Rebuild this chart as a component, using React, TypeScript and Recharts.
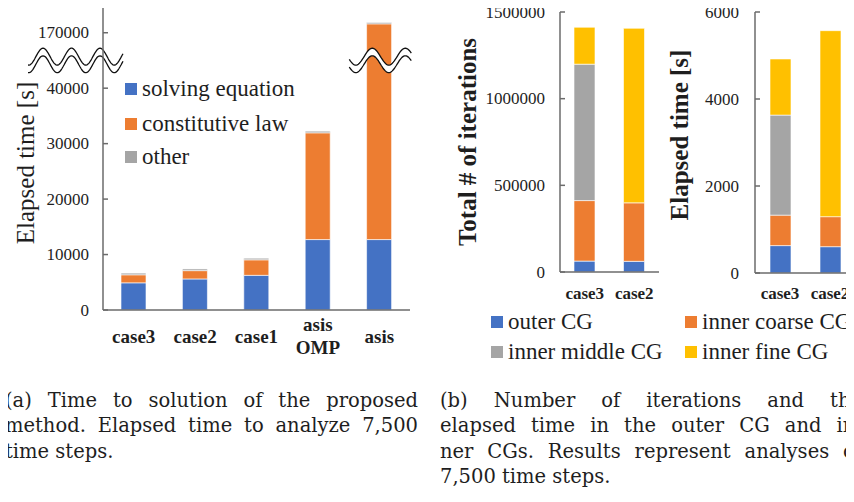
import React from 'react';
import { BarChart, Bar, XAxis, YAxis, ReferenceLine } from 'recharts';

// (a) time to solution, values in seconds
const timeCases = ['case3', 'case2', 'case1', 'asis\nOMP', 'asis'];
const solvingEquation = [4900, 5600, 6250, 12700, 12700];
const constitutiveLaw = [1450, 1500, 2800, 19250, 158900];
const otherTime = [300, 300, 300, 300, 250];
const timeTicks = [0, 10000, 20000, 30000, 40000, 170000];
const timeSeries = ['solving equation', 'constitutive law', 'other'];

// (b) iterations and elapsed time of the CG solvers
const cgCases = ['case3', 'case2'];
const cgSeries = ['outer CG', 'inner coarse CG', 'inner middle CG', 'inner fine CG'];
const iterOuter = [63000, 61500];
const iterCoarse = [349000, 337500];
const iterMiddle = [787000, 0];
const iterFine = [213000, 1007000];
const iterTicks = [0, 500000, 1000000, 1500000];
const cgTimeOuter = [630, 605];
const cgTimeCoarse = [700, 690];
const cgTimeMiddle = [2300, 0];
const cgTimeFine = [1290, 4276];
const cgTimeTicks = [0, 2000, 4000, 6000];

const BLUE = '#4472C4';
const ORANGE = '#ED7D31';
const GRAY = '#A5A5A5';
const YELLOW = '#FFC000';
const AXIS = '#6b6b6b';
const TEXT = '#1e1e1e';
const SERIF = '"Liberation Serif", "Times New Roman", serif';

// broken axis: everything above BREAK_AT is shifted down by GAP
const BREAK_AT = 40000;
const GAP = 120000;
const toShown = (v: number) => (v > BREAK_AT ? v - GAP : v);
const toReal = (v: number) => (v > BREAK_AT ? v + GAP : v);

const timeRows = timeCases.map((name, i) => {
  const total = solvingEquation[i] + constitutiveLaw[i] + otherTime[i];
  return {
    name,
    solving: solvingEquation[i],
    constitutive: total > BREAK_AT + GAP ? constitutiveLaw[i] - GAP : constitutiveLaw[i],
    other: otherTime[i],
  };
});

const iterRows = cgCases.map((name, i) => ({
  name,
  outer: iterOuter[i],
  coarse: iterCoarse[i],
  middle: iterMiddle[i],
  fine: iterFine[i],
}));

const cgTimeRows = cgCases.map((name, i) => ({
  name,
  outer: cgTimeOuter[i],
  coarse: cgTimeCoarse[i],
  middle: cgTimeMiddle[i],
  fine: cgTimeFine[i],
}));

const makeYTick = (gap: number, fmt: (v: number) => string = String) => (props: any) => {
  const { x, y, payload } = props;
  return (
    <g>
      <line x1={x + gap} x2={x + gap + 5} y1={y} y2={y} stroke={AXIS} strokeWidth={1.5} />
      <text
        x={x}
        y={y}
        textAnchor="end"
        dominantBaseline="central"
        fontSize={17}
        fontFamily={SERIF}
        fill={TEXT}
      >
        {fmt(payload.value)}
      </text>
    </g>
  );
};

const makeXTick = (dy: number, size: number, lh: number) => (props: any) => {
  const { x, y, payload } = props;
  const lines = String(payload.value).split('\n');
  const start = y + dy - ((lines.length - 1) * lh) / 2;
  return (
    <text
      x={x}
      textAnchor="middle"
      fontSize={size}
      fontWeight="bold"
      fontFamily={SERIF}
      fill={TEXT}
    >
      {lines.map((l, i) => (
        <tspan key={i} x={x} y={start + i * lh} dominantBaseline="central">
          {l}
        </tspan>
      ))}
    </text>
  );
};

const wavePath = (x0: number, x1: number, cy: number, peak: number, period: number) => {
  const pts: string[] = [];
  for (let x = x0; x <= x1; x += 1) {
    const y = cy - 8.5 * Math.cos((2 * Math.PI * (x - peak)) / period);
    pts.push(`${x.toFixed(1)},${y.toFixed(1)}`);
  }
  return pts;
};

const Wave = (p: { from: number; to: number; cy: number; peak: number; period: number }) => {
  const upper = wavePath(p.from, p.to, p.cy - 3.8, p.peak, p.period);
  const lower = wavePath(p.from, p.to, p.cy + 3.8, p.peak, p.period);
  return (
    <g>
      <polygon points={[...upper, ...lower.slice().reverse()].join(' ')} fill="#fff" />
      <polyline points={upper.join(' ')} fill="none" stroke="#111" strokeWidth={1.3} />
      <polyline points={lower.join(' ')} fill="none" stroke="#111" strokeWidth={1.3} />
    </g>
  );
};

// break marks drawn from the reference line's coordinates
const BreakMarks = (props: any) => {
  const { x1, x2, y1 } = props;
  const band = (x2 - x1) / timeCases.length;
  const lastCenter = x1 + band * (timeCases.length - 0.5);
  return (
    <g>
      <Wave from={x1 - 75} to={x1 + 20} cy={y1} peak={x1 - 3} period={28.5} />
      <Wave from={lastCenter - 30} to={lastCenter + 32} cy={y1} peak={lastCenter - 7} period={33} />
    </g>
  );
};

const YLabel = ({ x, y, text, bold }: { x: number; y: number; text: string; bold?: boolean }) => (
  <text
    x={x}
    y={y}
    transform={`rotate(-90, ${x}, ${y})`}
    textAnchor="middle"
    dominantBaseline="central"
    fontSize={25}
    fontWeight={bold ? 'bold' : 'normal'}
    fontFamily={SERIF}
    fill={TEXT}
  >
    {text}
  </text>
);

const Swatch = ({ color, label, left, top }: { color: string; label: string; left: number; top: number }) => (
  <div style={{ position: 'absolute', left, top: top - 15, height: 30, display: 'flex', alignItems: 'center' }}>
    <div style={{ width: 12, height: 12, background: color, marginRight: 5 }} />
    <span style={{ fontSize: 23, color: TEXT, whiteSpace: 'nowrap' }}>{label}</span>
  </div>
);

const captionLine = (text: string, last: boolean, width: number) => (
  <div
    key={text}
    style={{
      width,
      whiteSpace: 'nowrap',
      textAlign: last ? 'left' : 'justify',
      textAlignLast: last ? 'left' : 'justify',
    }}
  >
    {text}
  </div>
);

const captionA = [
  '(a) Time to solution of the proposed',
  'method. Elapsed time to analyze 7,500',
  'time steps.',
];
const captionB = [
  '(b) Number of iterations and the',
  'elapsed time in the outer CG and in-',
  'ner CGs. Results represent analyses of',
  '7,500 time steps.',
];

const cgColors = [BLUE, ORANGE, GRAY, YELLOW];
const cgKeys = ['outer', 'coarse', 'middle', 'fine'];

const captionStyle: React.CSSProperties = {
  position: 'absolute',
  top: 388,
  fontFamily: '"DejaVu Serif", serif',
  fontSize: 19.5,
  lineHeight: '25.3px',
};

export default function App() {
  const shownTicks = timeTicks.map(toShown);
  return (
    <div
      style={{
        position: 'relative',
        width: 854,
        height: 502,
        margin: -8,
        overflow: 'hidden',
        background: '#fff',
        fontFamily: SERIF,
        color: TEXT,
      }}
    >
      {/* (a) */}
      <div style={{ position: 'absolute', left: 0, top: 0 }}>
        <BarChart width={430} height={380} data={timeRows} margin={{ top: 5, right: 20, bottom: 0, left: 0 }}>
          <XAxis
            dataKey="name"
            height={70}
            interval={0}
            tickLine={false}
            tickSize={0}
            tickMargin={0}
            axisLine={{ stroke: AXIS, strokeWidth: 1.5 }}
            tick={makeXTick(26, 19, 23)}
          />
          <YAxis
            width={103}
            domain={[0, 55000]}
            ticks={shownTicks}
            interval={0}
            tickLine={false}
            tickSize={0}
            tickMargin={14}
            axisLine={{ stroke: AXIS, strokeWidth: 1.5 }}
            tick={makeYTick(14, (v) => String(toReal(v)))}
          />
          <Bar dataKey="solving" stackId="t" fill={BLUE} stroke="#fff" strokeWidth={0.6} barSize={25} isAnimationActive={false} />
          <Bar dataKey="constitutive" stackId="t" fill={ORANGE} stroke="#fff" strokeWidth={0.6} barSize={25} isAnimationActive={false} />
          <Bar dataKey="other" stackId="t" fill={GRAY} stroke="#fff" strokeWidth={0.6} barSize={25} isAnimationActive={false} />
          <ReferenceLine y={45000} ifOverflow="visible" shape={BreakMarks} />
          <YLabel x={25} y={163} text="Elapsed time [s]" />
        </BarChart>
      </div>
      <Swatch color={BLUE} label={timeSeries[0]} left={125} top={89} />
      <Swatch color={ORANGE} label={timeSeries[1]} left={125} top={124} />
      <Swatch color={GRAY} label={timeSeries[2]} left={125} top={157} />

      {/* (b) iterations */}
      <div style={{ position: 'absolute', left: 440, top: 0 }}>
        <BarChart width={222} height={312} data={iterRows} margin={{ top: 12, right: 3, bottom: 12, left: 0 }}>
          <XAxis
            dataKey="name"
            height={28}
            interval={0}
            tickLine={false}
            tickSize={0}
            tickMargin={0}
            axisLine={{ stroke: AXIS, strokeWidth: 1.5 }}
            tick={makeXTick(21, 17, 20)}
          />
          <YAxis
            width={120}
            domain={[0, 1500000]}
            ticks={iterTicks}
            interval={0}
            tickLine={false}
            tickSize={0}
            tickMargin={15}
            axisLine={{ stroke: AXIS, strokeWidth: 1.5 }}
            tick={makeYTick(15)}
          />
          {cgKeys.map((k, i) => (
            <Bar key={k} dataKey={k} name={cgSeries[i]} stackId="i" fill={cgColors[i]} stroke="#fff" strokeWidth={0.6} barSize={21} isAnimationActive={false} />
          ))}
          <YLabel x={27} y={142} text="Total # of iterations" bold />
        </BarChart>
      </div>

      {/* (b) elapsed time */}
      <div style={{ position: 'absolute', left: 660, top: 0 }}>
        <BarChart width={196} height={312} data={cgTimeRows} margin={{ top: 12, right: 1, bottom: 12, left: 0 }}>
          <XAxis
            dataKey="name"
            height={27}
            interval={0}
            tickLine={false}
            tickSize={0}
            tickMargin={0}
            axisLine={{ stroke: AXIS, strokeWidth: 1.5 }}
            tick={makeXTick(20, 17, 20)}
          />
          <YAxis
            width={95}
            domain={[0, 6000]}
            ticks={cgTimeTicks}
            interval={0}
            tickLine={false}
            tickSize={0}
            tickMargin={16}
            axisLine={{ stroke: AXIS, strokeWidth: 1.5 }}
            tick={makeYTick(16)}
          />
          {cgKeys.map((k, i) => (
            <Bar key={k} dataKey={k} name={cgSeries[i]} stackId="e" fill={cgColors[i]} stroke="#fff" strokeWidth={0.6} barSize={21} isAnimationActive={false} />
          ))}
          <YLabel x={19} y={135} text="Elapsed time [s]" bold />
        </BarChart>
      </div>

      <Swatch color={BLUE} label={cgSeries[0]} left={491} top={322} />
      <Swatch color={ORANGE} label={cgSeries[1]} left={685} top={322} />
      <Swatch color={GRAY} label={cgSeries[2]} left={491} top={352} />
      <Swatch color={YELLOW} label={cgSeries[3]} left={685} top={352} />

      {/* captions */}
      <div style={{ ...captionStyle, left: 5 }}>
        {captionA.map((t, i) => captionLine(t, i === captionA.length - 1, 413))}
      </div>
      <div style={{ ...captionStyle, left: 440 }}>
        {captionB.map((t, i) => captionLine(t, i === captionB.length - 1, 422))}
      </div>
    </div>
  );
}
